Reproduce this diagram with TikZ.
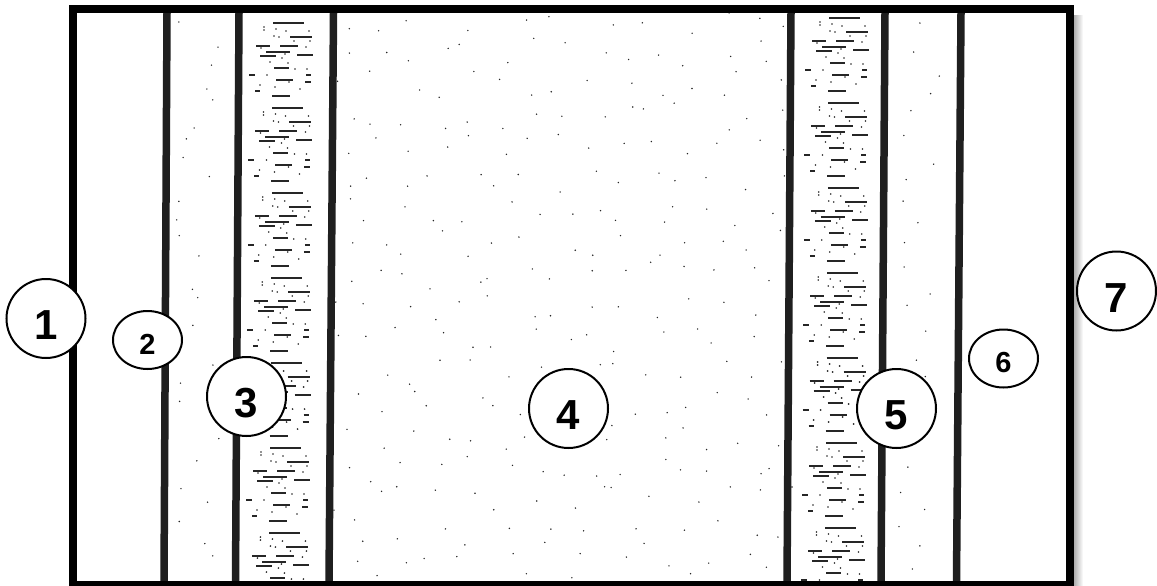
\documentclass[tikz,border=0pt]{standalone}
\usepackage{fontspec}
\setmainfont{Liberation Sans}
\usetikzlibrary{shapes.geometric}
\begin{document}
\begin{tikzpicture}[x=1pt,y=-1pt,
  wall/.style={line width=7.5pt, draw=black!88},
  frame/.style={line width=8pt, draw=black},
  dsh/.style={line width=1.7pt, draw=black!85},
  speck/.style={fill=black!85},
  tag/.style={ellipse, draw=black, line width=2pt, fill=white, inner sep=0pt,
    font=\bfseries\fontsize{42}{42}\selectfont, text height=42pt, text depth=0pt,
    minimum width=79pt, minimum height=79pt},
  smalltag/.style={tag, font=\bfseries\fontsize{29}{29}\selectfont,
    text height=28.5pt, minimum width=69pt, minimum height=58pt}
]
\useasboundingbox (0,0) rectangle (1157,586);
% shadow on the right
\shade[left color=black!35, right color=white] (1073,16) rectangle (1083,586);
% stippling and dashes, clipped to the inner frame
\begin{scope}
  \clip (77,13) rectangle (1066,581);
  % dashed columns (3 and 5)
  \foreach \k in {0,...,6} {
    \foreach \bx/\by in {239/0, 795/-5} {
      \pgfmathsetmacro\ox{\bx-0.6*\k}
      \pgfmathsetmacro\oy{\by+85*\k}
      \foreach \yy/\aa/\bb in {23/34/65, 37/51/73, 46/17/31, 46/41/59, 52/27/51,
          55/58/74, 56/21/37, 68/35/50, 75/10/16, 75/67/72, 80/37/54, 82/66/72,
          91/16/21, 96/33/51} {
        \draw[dsh] (\ox+\aa,\oy+\yy) -- (\ox+\bb,\oy+\yy);
      }
      \foreach \aa/\yy in {25/27, 37/29, 47/31, 70/31, 25/30, 35/36, 40/37, 55/41,
          71/41, 22/48, 67/47, 46/54, 43/58, 31/62, 49/63, 56/69, 68/69, 28/75,
          50/82, 21/85, 36/87, 61/89} {
        \fill[speck] (\ox+\aa,\oy+\yy) circle (0.9pt);
      }
    }
  }
  % sparse dots in column 4 (jittered grid)
  \pgfmathsetseed{4242}
  \foreach \gx in {345,376,...,780} {
    \foreach \gy in {20,52,...,575} {
      \pgfmathsetmacro\px{\gx+rand*14}
      \pgfmathsetmacro\py{\gy+rand*14}
      \fill[speck] (\px,\py) circle (0.8pt);
    }
  }
  % sparse dots in column 2
  \foreach \gy in {22,42,...,575} {
    \pgfmathsetmacro\px{198+rand*22}
    \pgfmathsetmacro\py{\gy+rand*8}
    \fill[speck] (\px,\py) circle (0.8pt);
  }
  % sparse dots in column 6
  \foreach \gy in {25,47,...,575} {
    \pgfmathsetmacro\px{920+rand*22}
    \pgfmathsetmacro\py{\gy+rand*8}
    \fill[speck] (\px,\py) circle (0.8pt);
  }
\end{scope}
% inner walls
\draw[wall] (167,13) -- (164,581);
\draw[wall] (239,13) -- (235.5,581);
\draw[wall] (333.5,13) -- (329,581);
\draw[wall] (791,13) -- (787,581);
\draw[wall] (885,13) -- (881,581);
\draw[wall] (961,13) -- (956.5,581);
% outer frame
\draw[frame] (73,9) rectangle (1069.5,585);
% labels
\node[tag] (n1) at (46,318.5) {1};
\node[smalltag] (n2) at (147.5,340) {2};
\node[tag] (n3) at (246.5,396.5) {3};
\node[tag] (n4) at (568.5,408.5) {4};
\node[tag] (n5) at (896.5,408.5) {5};
\node[smalltag] (n6) at (1003.5,358.5) {6};
\node[tag] (n7) at (1116.5,291) {7};
\end{tikzpicture}
\end{document}
